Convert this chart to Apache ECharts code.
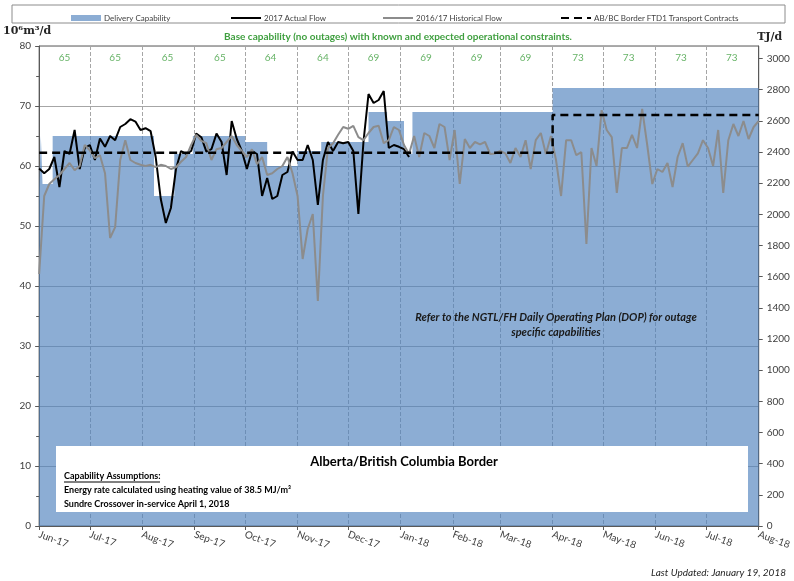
<!DOCTYPE html>
<html>
<head>
<meta charset="utf-8">
<script src="https://cdn.jsdelivr.net/npm/echarts@6/dist/echarts.min.js"></script>
<style>
html, body { margin: 0; padding: 0; background: #fff; }
#myChart { width: 794px; height: 581px; }
</style>
</head>
<body>
<div id="myChart"></div>
<script>
// data (10^6 m3/d)
const DAY = 86400000;
const flowStart = '2017-06-01';
const flowStepDays = 3;

// 2017 actual flow, one value every 3 days from Jun 1 2017
const actualFlow = [
  59.6, 58.8, 59.5, 61.5, 56.5, 62.5, 62, 66, 59.5, 63,
  63.5, 61, 64.6, 63.2, 65, 64.3, 66.5, 67, 67.8, 67.4,
  66, 66.3, 65.8, 61.5, 54.5, 50.5, 53, 59.5, 62.5, 62,
  62.5, 65.4, 64.8, 62.4, 62.8, 65.4, 64, 58.5, 67.5, 64.5,
  62.5, 59.5, 62.5, 62, 55, 58, 54.5, 55, 58.5, 59,
  62.4, 61, 61, 63.5, 61, 53.5, 61, 64, 62.5, 64,
  63.8, 64, 62.5, 52, 64, 72, 70.5, 71, 72.5, 63,
  63.5, 63.2, 62.8, 61.5
];

// 2016/17 historical flow, one value every 3 days from Jun 1 2017
const historicalFlow = [
  42, 55, 57, 57.8, 58.5, 59.5, 60.5, 59.3, 60, 63.5,
  62.6, 61.3, 61.8, 58.8, 48, 49.8, 61, 64.3, 61, 60.5,
  60.2, 60, 60.2, 59.8, 60.2, 60, 59.5, 59.8, 60.7, 61.5,
  63.5, 65.2, 64.2, 63.8, 61, 62.8, 63, 64, 65, 63.5,
  62.5, 61.5, 62.8, 60.3, 61.5, 58.5, 58.8, 59.5, 60, 61.5,
  58.8, 55, 44.5, 49.5, 52, 37.5, 55, 63, 63.8, 65.2,
  66.5, 66.2, 66.7, 64.8, 64.3, 65.5, 66.5, 66.7, 63.8, 64.3,
  66.5, 66, 63.5, 62, 65, 61.5, 65.5, 65, 63, 67,
  66.5, 61, 66, 57, 64.5, 63, 64, 63.6, 64, 62,
  62.1, 62.5, 62.1, 60.5, 63, 61.5, 64.3, 59.5, 64.3, 65.5,
  62, 65, 61, 55, 64.3, 64.3, 61.8, 62.3, 47, 63,
  60, 69.3, 66, 64.8, 55.5, 63, 63, 65.2, 63, 69.5,
  63.5, 57, 59.5, 59, 60.5, 56.5, 61.5, 63.8, 59.9, 61,
  62.1, 64.3, 63, 60, 66, 55.5, 64.3, 67, 65, 67.5,
  64.5, 66.5, 67.5
];

// delivery capability, a step that holds each value until the next date
const capabilityDates = [
  '2017-06-01', '2017-06-02', '2017-06-03', '2017-06-09', '2017-08-08',
  '2017-08-20', '2017-08-31', '2017-10-01', '2017-10-14', '2017-11-01',
  '2017-11-15', '2017-12-13', '2017-12-24', '2018-01-03', '2018-01-08',
  '2018-04-01', '2018-08-01'
];
const capabilityValues = [
  56, 65, 57, 65, 55,
  62, 65, 64, 60, 62.5,
  64, 69, 67.5, 62, 69,
  73, 73
];

// AB/BC Border FTD1 transport contracts
const contractDates = ['2017-06-01', '2018-04-01', '2018-08-01'];
const contractValues = [62.2, 68.5, 68.5];

// base capability numbers printed for each month
const baseMonths = [
  '2017-06-16', '2017-07-16', '2017-08-16', '2017-09-16', '2017-10-16',
  '2017-11-16', '2017-12-16', '2018-01-16', '2018-02-15', '2018-03-16',
  '2018-04-16', '2018-05-16', '2018-06-16', '2018-07-16'
];
const baseValues = [65, 65, 65, 65, 64, 64, 69, 69, 69, 69, 73, 73, 73, 73];
const baseLabelLevel = 78;

const monthNames = ['Jan', 'Feb', 'Mar', 'Apr', 'May', 'Jun', 'Jul', 'Aug', 'Sep', 'Oct', 'Nov', 'Dec'];

const leftTicks = { min: 0, max: 80, interval: 10 };
const rightTicks = { min: 0, max: 3080, interval: 200 };   // 80 x 38.5 MJ/m3

function t(s) { return new Date(s + 'T00:00:00').getTime(); }
function stepSeries(values) {
  const t0 = t(flowStart);
  return values.map((v, i) => [t0 + i * flowStepDays * DAY, v]);
}
function pairs(dates, values) { return dates.map((d, i) => [t(d), values[i]]); }

const font = 'Lato, "Open Sans", sans-serif';
const labelColor = '#404040';
const areaBlue = 'rgba(79,129,189,0.65)';

const myChart = echarts.init(document.getElementById('myChart'));

const legendText = { fontSize: 8, color: labelColor, fontFamily: font, padding: [0, 0, 0, -2] };

const option = {
  animation: false,
  backgroundColor: '#fff',
  textStyle: { fontFamily: font },
  grid: {
    left: 39, right: 32, top: 46, bottom: 55,
    show: true, borderColor: '#595959', borderWidth: 1, backgroundColor: '#fff'
  },
  legend: [
    { data: [{ name: 'Delivery Capability', icon: 'rect', itemStyle: { color: areaBlue, opacity: 1 } }], left: 66, top: 9, itemHeight: 6 },
    { data: ['2017 Actual Flow'], left: 225, top: 9, itemStyle: { opacity: 0 } },
    { data: ['2016/17 Historical Flow'], left: 377, top: 9, itemStyle: { opacity: 0 } },
    { data: ['AB/BC Border FTD1 Transport Contracts'], left: 555, top: 9, itemStyle: { opacity: 0 } }
  ].map(l => Object.assign({ itemWidth: 30, itemHeight: 8, itemGap: 4, textStyle: legendText }, l)),
  xAxis: {
    type: 'time',
    min: t('2017-06-01'),
    max: t('2018-08-01'),
    splitNumber: 14,
    minInterval: 28 * DAY,
    maxInterval: 31 * DAY,
    axisLine: { lineStyle: { color: '#595959' } },
    axisTick: { show: true, length: 4, lineStyle: { color: '#595959' } },
    axisLabel: {
      rotate: -20, fontSize: 10, color: labelColor, margin: 8,
      showMinLabel: true, showMaxLabel: true,
      formatter: function (v) {
        const d = new Date(v);
        return monthNames[d.getMonth()] + '-' + String(d.getFullYear()).slice(2);
      }
    },
    splitLine: { show: true, lineStyle: { type: 'dashed', color: '#a6a6a6' } }
  },
  yAxis: [
    {
      type: 'value', min: leftTicks.min, max: leftTicks.max, interval: leftTicks.interval,
      name: '10\u2076m\u00b3/d', nameLocation: 'end', nameGap: 9,
      nameTextStyle: { fontSize: 11, fontWeight: 'bold', color: '#262626', fontFamily: '"DejaVu Serif", serif', align: 'center', padding: [0, 24, 0, 0] },
      axisLine: { show: true, lineStyle: { color: '#595959' } },
      axisTick: { show: true, length: 4, lineStyle: { color: '#595959' } },
      minorTick: { show: true, splitNumber: 2, length: 3, lineStyle: { color: '#595959' } },
      axisLabel: { fontSize: 10, color: labelColor, margin: 8 },
      splitLine: { show: true, lineStyle: { color: '#a6a6a6' } }
    },
    {
      type: 'value', min: rightTicks.min, max: rightTicks.max, interval: rightTicks.interval,
      name: 'TJ/d', nameLocation: 'end', nameGap: 3,
      nameTextStyle: { fontSize: 11, fontWeight: 'bold', color: '#262626', fontFamily: '"DejaVu Serif", serif', align: 'center', padding: [0, 0, 0, 22] },
      position: 'right',
      axisLine: { show: true, lineStyle: { color: '#595959' } },
      axisTick: { show: true, length: 4, lineStyle: { color: '#595959' } },
      axisLabel: { fontSize: 10, color: labelColor, margin: 8, showMaxLabel: false, formatter: v => String(v) },
      splitLine: { show: false }
    }
  ],
  series: [
    {
      name: 'Delivery Capability', type: 'line', step: 'end',
      data: pairs(capabilityDates, capabilityValues),
      symbol: 'none', lineStyle: { width: 0 },
      itemStyle: { color: areaBlue },
      areaStyle: { color: areaBlue, opacity: 1 },
      z: 1
    },
    {
      name: '2017 Actual Flow', type: 'line',
      data: stepSeries(actualFlow),
      symbol: 'none', lineStyle: { width: 2, color: '#000' },
      itemStyle: { color: '#000' }, z: 3
    },
    {
      name: '2016/17 Historical Flow', type: 'line',
      data: stepSeries(historicalFlow),
      symbol: 'none', lineStyle: { width: 2, color: '#8c8c8c' },
      itemStyle: { color: '#8c8c8c' }, z: 4
    },
    {
      name: 'AB/BC Border FTD1 Transport Contracts', type: 'line', step: 'end',
      data: pairs(contractDates, contractValues),
      symbol: 'none', lineStyle: { width: 2.5, color: '#000', type: [8, 5] },
      itemStyle: { color: '#000' }, z: 5
    },
    {
      name: 'base', type: 'scatter', symbolSize: 0, silent: true,
      data: baseMonths.map((m, i) => [t(m), baseLabelLevel, baseValues[i]]),
      label: {
        show: true, position: 'inside', fontSize: 10, color: '#3f9f3f',
        formatter: p => p.value[2]
      },
      z: 6
    }
  ],
  graphic: [
    { type: 'rect', shape: { x: 12, y: 5, width: 773, height: 18 }, style: { fill: 'none', stroke: '#8c8c8c', lineWidth: 1 }, z: -1 },
    {
      type: 'text', x: 398, y: 37,
      style: { text: 'Base capability (no outages) with known and expected operational constraints.', fill: '#3f9f3f', font: 'bold 10px ' + font, textAlign: 'center', textVerticalAlign: 'middle' }
    },
    {
      type: 'text', x: 556, y: 325,
      style: { text: 'Refer to the NGTL/FH Daily Operating Plan (DOP) for outage\nspecific capabilities', fill: '#1a1a1a', font: 'italic bold 11px ' + font, textAlign: 'center', textVerticalAlign: 'middle', lineHeight: 15 },
      z: 10
    },
    { type: 'rect', shape: { x: 56, y: 446, width: 692, height: 66 }, style: { fill: '#fff' }, z: 10 },
    {
      type: 'text', x: 404, y: 462,
      style: { text: 'Alberta/British Columbia Border', fill: '#000', font: 'bold 13px ' + font, textAlign: 'center', textVerticalAlign: 'middle' },
      z: 11
    },
    {
      type: 'text', x: 64, y: 476,
      style: { text: 'Capability Assumptions:', fill: '#000', font: 'bold 9px ' + font, textVerticalAlign: 'middle' },
      z: 11
    },
    { type: 'line', shape: { x1: 64, y1: 482, x2: 160, y2: 482 }, style: { stroke: '#000', lineWidth: 1 }, z: 11 },
    {
      type: 'text', x: 64, y: 490,
      style: { text: 'Energy rate calculated using heating value of 38.5 MJ/m\u00b3', fill: '#000', font: 'bold 9px ' + font, textVerticalAlign: 'middle' },
      z: 11
    },
    {
      type: 'text', x: 64, y: 504,
      style: { text: 'Sundre Crossover in-service April 1, 2018', fill: '#000', font: 'bold 9px ' + font, textVerticalAlign: 'middle' },
      z: 11
    },
    {
      type: 'text', x: 786, y: 573,
      style: { text: 'Last Updated: January 19, 2018', fill: '#262626', font: 'italic 10px ' + font, textAlign: 'right', textVerticalAlign: 'middle' }
    }
  ]
};

myChart.setOption(option);
window.addEventListener('resize', myChart.resize);
</script>
</body>
</html>
